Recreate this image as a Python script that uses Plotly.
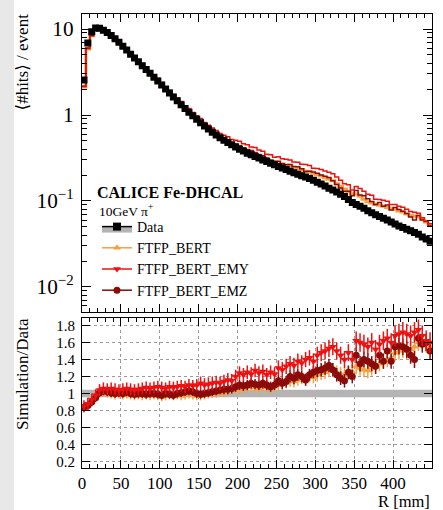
import plotly.graph_objects as go

# ---------------- data ----------------
bin_edges = list(range(0, 455, 5))               # R [mm], 5 mm bins
bin_centers = [e + 2.5 for e in bin_edges[:-1]]

data_hits = [2.55, 6.9, 9.3, 10.3, 10.2, 9.7, 9.1, 8.4, 7.7, 7.0,
             6.3, 5.7, 5.1, 4.6, 4.15, 3.75, 3.38, 3.05, 2.75, 2.48,
             2.23, 2.0, 1.80, 1.62, 1.46, 1.32, 1.19, 1.08, 0.98, 0.89,
             0.815, 0.745, 0.685, 0.63, 0.585, 0.545, 0.51, 0.48, 0.45, 0.425,
             0.40, 0.38, 0.36, 0.345, 0.33, 0.315, 0.30, 0.287, 0.275, 0.263,
             0.252, 0.242, 0.232, 0.222, 0.213, 0.205, 0.197, 0.19, 0.182, 0.174,
             0.165, 0.157, 0.149, 0.141, 0.134, 0.127, 0.120, 0.113, 0.104, 0.096,
             0.091, 0.087, 0.082, 0.077, 0.073, 0.069, 0.066, 0.063, 0.06, 0.057,
             0.054, 0.051, 0.049, 0.047, 0.045, 0.043, 0.041, 0.038, 0.036, 0.034]

data_rel_err = [0.045, 0.045, 0.045, 0.045, 0.045, 0.045, 0.045, 0.045, 0.045, 0.045,
                0.045, 0.045, 0.045, 0.045, 0.045, 0.045, 0.045, 0.045, 0.045, 0.045,
                0.045, 0.045, 0.045, 0.045, 0.045, 0.045, 0.045, 0.045, 0.045, 0.045,
                0.045, 0.045, 0.045, 0.045, 0.045, 0.045, 0.045, 0.045, 0.045, 0.045,
                0.045, 0.045, 0.045, 0.045, 0.045, 0.045, 0.045, 0.045, 0.045, 0.045,
                0.045, 0.045, 0.045, 0.045, 0.045, 0.045, 0.045, 0.045, 0.045, 0.045,
                0.045, 0.045, 0.045, 0.045, 0.045, 0.045, 0.045, 0.045, 0.045, 0.045,
                0.045, 0.045, 0.045, 0.045, 0.045, 0.045, 0.045, 0.045, 0.045, 0.045,
                0.045, 0.045, 0.045, 0.045, 0.045, 0.045, 0.045, 0.045, 0.045, 0.045]

ratio_bert = [0.83, 0.85, 0.90, 0.95, 1.00, 1.02, 1.00, 0.99, 0.98, 0.99,
              0.98, 0.99, 0.98, 0.97, 0.98, 0.97, 0.98, 0.97, 0.98, 0.97,
              0.96, 0.97, 0.98, 0.97, 0.98, 0.97, 0.98, 0.99, 0.98, 0.97,
              0.97, 0.98, 0.99, 1.00, 1.00, 1.01, 1.02, 1.03, 1.04, 1.05,
              1.05, 1.06, 1.07, 1.08, 1.07, 1.06, 1.08, 1.07, 1.06, 1.08,
              1.10, 1.12, 1.13, 1.15, 1.14, 1.16, 1.18, 1.17, 1.20, 1.19,
              1.22, 1.24, 1.25, 1.27, 1.28, 1.25, 1.23, 1.22, 1.24, 1.26,
              1.32, 1.30, 1.28, 1.27, 1.30, 1.32, 1.35, 1.38, 1.40, 1.42,
              1.48, 1.50, 1.52, 1.50, 1.52, 1.55, 1.60, 1.62, 1.58, 1.55]
err_bert = [0.05, 0.05, 0.05, 0.05, 0.05, 0.05, 0.05, 0.05, 0.05, 0.05,
            0.05, 0.05, 0.05, 0.05, 0.05, 0.05, 0.05, 0.05, 0.05, 0.05,
            0.05, 0.05, 0.05, 0.05, 0.05, 0.05, 0.05, 0.05, 0.05, 0.05,
            0.05, 0.05, 0.05, 0.05, 0.05, 0.05, 0.06, 0.06, 0.06, 0.06,
            0.06, 0.06, 0.06, 0.06, 0.06, 0.06, 0.06, 0.06, 0.06, 0.06,
            0.07, 0.07, 0.07, 0.07, 0.07, 0.07, 0.07, 0.07, 0.07, 0.07,
            0.08, 0.08, 0.08, 0.08, 0.08, 0.08, 0.08, 0.08, 0.08, 0.08,
            0.09, 0.09, 0.09, 0.09, 0.09, 0.09, 0.09, 0.09, 0.09, 0.09,
            0.10, 0.10, 0.10, 0.10, 0.10, 0.10, 0.10, 0.10, 0.10, 0.10]

ratio_emy = [0.85, 0.88, 0.93, 0.98, 1.04, 1.06, 1.05, 1.06, 1.05, 1.04,
             1.05, 1.06, 1.05, 1.04, 1.05, 1.06, 1.07, 1.06, 1.07, 1.08,
             1.07, 1.06, 1.08, 1.07, 1.08, 1.09, 1.08, 1.10, 1.09, 1.10,
             1.12, 1.10, 1.11, 1.12, 1.13, 1.12, 1.14, 1.16, 1.15, 1.20,
             1.24, 1.22, 1.25, 1.23, 1.27, 1.24, 1.26, 1.22, 1.25, 1.23,
             1.30, 1.28, 1.32, 1.35, 1.33, 1.38, 1.36, 1.40, 1.42, 1.38,
             1.45, 1.48, 1.50, 1.53, 1.55, 1.50, 1.45, 1.40, 1.48, 1.40,
             1.62, 1.60, 1.58, 1.55, 1.60, 1.52, 1.58, 1.62, 1.65, 1.60,
             1.68, 1.70, 1.72, 1.70, 1.68, 1.72, 1.75, 1.68, 1.62, 1.60]
err_emy = [0.07, 0.07, 0.07, 0.07, 0.07, 0.07, 0.07, 0.07, 0.07, 0.07,
           0.07, 0.07, 0.07, 0.07, 0.07, 0.07, 0.07, 0.07, 0.07, 0.07,
           0.07, 0.07, 0.07, 0.07, 0.07, 0.07, 0.07, 0.07, 0.07, 0.07,
           0.08, 0.08, 0.08, 0.08, 0.08, 0.08, 0.08, 0.08, 0.08, 0.08,
           0.08, 0.08, 0.08, 0.08, 0.08, 0.08, 0.08, 0.08, 0.08, 0.08,
           0.09, 0.09, 0.09, 0.09, 0.09, 0.09, 0.09, 0.09, 0.09, 0.09,
           0.10, 0.10, 0.10, 0.10, 0.10, 0.10, 0.10, 0.10, 0.10, 0.10,
           0.11, 0.11, 0.11, 0.11, 0.11, 0.11, 0.11, 0.11, 0.11, 0.11,
           0.12, 0.12, 0.12, 0.12, 0.12, 0.12, 0.12, 0.12, 0.12, 0.12]

ratio_emz = [0.84, 0.86, 0.90, 0.95, 1.01, 1.03, 1.02, 1.01, 1.00, 1.01,
             1.00, 1.02, 1.00, 0.99, 1.00, 1.00, 0.99, 1.00, 1.00, 0.99,
             0.98, 1.00, 0.99, 0.98, 1.00, 1.01, 1.02, 1.03, 1.02, 1.00,
             0.99, 1.00, 1.01, 1.02, 1.03, 1.04, 1.05, 1.05, 1.06, 1.08,
             1.10, 1.09, 1.10, 1.12, 1.11, 1.10, 1.12, 1.10, 1.08, 1.10,
             1.15, 1.12, 1.14, 1.20, 1.18, 1.22, 1.20, 1.16, 1.22, 1.25,
             1.27, 1.28, 1.30, 1.33, 1.28, 1.22, 1.18, 1.15, 1.25, 1.20,
             1.45, 1.35, 1.40, 1.38, 1.35, 1.32, 1.45, 1.38, 1.50, 1.38,
             1.55, 1.56, 1.55, 1.52, 1.45, 1.40, 1.65, 1.58, 1.60, 1.50]
err_emz = [0.05, 0.05, 0.05, 0.05, 0.05, 0.05, 0.05, 0.05, 0.05, 0.05,
           0.05, 0.05, 0.05, 0.05, 0.05, 0.05, 0.05, 0.05, 0.05, 0.05,
           0.05, 0.05, 0.05, 0.05, 0.05, 0.05, 0.05, 0.05, 0.05, 0.05,
           0.05, 0.05, 0.05, 0.05, 0.05, 0.05, 0.06, 0.06, 0.06, 0.06,
           0.06, 0.06, 0.06, 0.06, 0.06, 0.06, 0.06, 0.06, 0.06, 0.06,
           0.07, 0.07, 0.07, 0.07, 0.07, 0.07, 0.07, 0.07, 0.07, 0.07,
           0.08, 0.08, 0.08, 0.08, 0.08, 0.08, 0.08, 0.08, 0.08, 0.08,
           0.09, 0.09, 0.09, 0.09, 0.09, 0.09, 0.09, 0.09, 0.09, 0.09,
           0.10, 0.10, 0.10, 0.10, 0.10, 0.10, 0.10, 0.10, 0.10, 0.10]

y_ticks_ratio = [0.2, 0.4, 0.6, 0.8, 1.0, 1.2, 1.4, 1.6, 1.8]
y_ticktext_ratio = ["0.2", "0.4", "0.6", "0.8", "1", "1.2", "1.4", "1.6", "1.8"]
x_ticks = [0, 50, 100, 150, 200, 250, 300, 350, 400, 450]

# ---------------- styles ----------------
FONT = "Liberation Serif, Tinos, 'Times New Roman', 'DejaVu Serif', serif"
TICK_SIZE = 17
C_BERT = "#f5a040"
C_EMY = "#ee1111"
C_EMZ = "#8b0a0a"
C_BAND = "#b4b4b4"

W, H = 443, 510
ML, MR, MT, MB = 82, 11, 14, 42
PW, PH = W - ML - MR, H - MT - MB
top_dom = [(468 - 311.5) / PH, 1.0]
bot_dom = [0.0, (468 - 318) / PH]

def step(vals):
    return vals + [vals[-1]]

fig = go.Figure()

# ---- top panel: data band ----
up = [d * (1 + e) for d, e in zip(data_hits, data_rel_err)]
lo = [d * (1 - e) for d, e in zip(data_hits, data_rel_err)]
fig.add_trace(go.Scatter(x=bin_edges, y=step(lo), mode="lines", line=dict(width=0, shape="hv"),
                         showlegend=False, hoverinfo="skip", xaxis="x", yaxis="y"))
fig.add_trace(go.Scatter(x=bin_edges, y=step(up), mode="lines", line=dict(width=0, shape="hv"),
                         fill="tonexty", fillcolor=C_BAND, showlegend=False, hoverinfo="skip",
                         xaxis="x", yaxis="y"))

sims = [("FTFP_BERT", ratio_bert, err_bert, C_BERT, "triangle-up", 3.0),
        ("FTFP_BERT_EMZ", ratio_emz, err_emz, C_EMZ, "circle", 1.5),
        ("FTFP_BERT_EMY", ratio_emy, err_emy, C_EMY, "triangle-down", 1.5)]

for name, r, e, c, sym, lw in sims:
    vals = [d * x for d, x in zip(data_hits, r)]
    fig.add_trace(go.Scatter(x=bin_edges, y=step(vals), mode="lines",
                             line=dict(color=c, width=lw, shape="hv"),
                             showlegend=False, xaxis="x", yaxis="y"))

fig.add_trace(go.Scatter(x=bin_centers, y=data_hits, mode="markers",
                         marker=dict(symbol="square", size=7, color="black"),
                         showlegend=False, xaxis="x", yaxis="y"))

# ---- ratio panel ----
band_lo = [1 - e for e in data_rel_err]
band_hi = [1 + e for e in data_rel_err]
fig.add_trace(go.Scatter(x=bin_edges, y=step(band_lo), mode="lines", line=dict(width=0, shape="hv"),
                         showlegend=False, hoverinfo="skip", xaxis="x2", yaxis="y2"))
fig.add_trace(go.Scatter(x=bin_edges, y=step(band_hi), mode="lines", line=dict(width=0, shape="hv"),
                         fill="tonexty", fillcolor=C_BAND, showlegend=False, hoverinfo="skip",
                         xaxis="x2", yaxis="y2"))

for name, r, e, c, sym, lw in sims:
    fig.add_trace(go.Scatter(x=bin_centers, y=r, mode="markers",
                             marker=dict(symbol=sym, size=7, color=c),
                             error_y=dict(type="data", array=e, color=c, thickness=1.5, width=0),
                             showlegend=False, xaxis="x2", yaxis="y2"))

# ---- legend-only entries ----
fig.add_trace(go.Scatter(x=[None], y=[None], name="Data", mode="lines+markers", fill="toself",
                         fillcolor=C_BAND, line=dict(color="black", width=1.5),
                         marker=dict(symbol="square", size=8, color="black"),
                         xaxis="x", yaxis="y"))
for name, c, sym in [("FTFP_BERT", C_BERT, "triangle-up"),
                     ("FTFP_BERT_EMY", C_EMY, "triangle-down"),
                     ("FTFP_BERT_EMZ", C_EMZ, "circle")]:
    fig.add_trace(go.Scatter(x=[None], y=[None], name=name, mode="lines+markers",
                             line=dict(color=c, width=1.5), marker=dict(symbol=sym, size=7, color=c),
                             xaxis="x", yaxis="y"))

axis_common = dict(showline=True, linecolor="black", linewidth=1, mirror="allticks",
                   ticks="inside", tickcolor="black", zeroline=False)

fig.update_layout(
    width=W, height=H,
    margin=dict(l=ML, r=MR, t=MT, b=MB),
    paper_bgcolor="white", plot_bgcolor="white",
    font=dict(family=FONT, size=15, color="black"),
    xaxis=dict(domain=[0, 1], range=[0, 450], anchor="y", showticklabels=False,
               tickvals=x_ticks, ticklen=8, showgrid=False,
               minor=dict(dtick=10, tick0=0, ticklen=4, ticks="inside", tickcolor="black", showgrid=False),
               tickfont=dict(family=FONT, size=TICK_SIZE, color="black"),
               **axis_common),
    yaxis=dict(domain=top_dom, type="log", range=[-2.286, 1.175], anchor="x",
               tickmode="linear", tick0=0, dtick=1, exponentformat="power",
               ticklen=9, showgrid=False, ticklabelstandoff=4,
               minor=dict(dtick="D1", ticks="inside", ticklen=5, tickcolor="black", showgrid=False),
               tickfont=dict(family=FONT, size=TICK_SIZE, color="black"),
               **axis_common),
    xaxis2=dict(domain=[0, 1], range=[0, 450], anchor="y2", matches="x",
                tickvals=x_ticks, ticktext=[str(v) for v in x_ticks], ticklen=8,
                showgrid=True, gridcolor="#9a9a9a", griddash="dot", gridwidth=1,
                minor=dict(dtick=10, tick0=0, ticklen=4, ticks="inside", tickcolor="black", showgrid=False),
                tickfont=dict(family=FONT, size=TICK_SIZE, color="black"),
                **axis_common),
    yaxis2=dict(domain=bot_dom, range=[0.124, 1.888], anchor="x2",
                tickvals=y_ticks_ratio, ticktext=y_ticktext_ratio, ticklen=8,
                showgrid=True, gridcolor="#9a9a9a", griddash="dot", gridwidth=1,
                ticklabelstandoff=3,
                tickfont=dict(family=FONT, size=15, color="black"),
                **axis_common),
    legend=dict(x=(97 - ML) / PW, y=(468 - 211) / PH, xanchor="left", yanchor="top",
                bgcolor="rgba(0,0,0,0)", font=dict(family=FONT, size=14, color="black"),
                tracegroupgap=0, itemwidth=30, traceorder="normal"),
    showlegend=True,
)

fig.add_annotation(text="<b>CALICE Fe-DHCAL</b>", xref="paper", yref="paper",
                   x=(95 - ML) / PW, y=(468 - 193) / PH, xanchor="left", yanchor="middle",
                   showarrow=False, font=dict(family=FONT, size=16, color="black"))
fig.add_annotation(text="10GeV \u03c0<sup>+</sup>", xref="paper", yref="paper",
                   x=(97 - ML) / PW, y=(468 - 210.5) / PH, xanchor="left", yanchor="middle",
                   showarrow=False, font=dict(family=FONT, size=13.5, color="black"))
fig.add_annotation(text="\u27e8#hits\u27e9 / event", xref="paper", yref="paper",
                   x=(22 - ML) / PW, y=(468 - 12) / PH, xanchor="center", yanchor="top",
                   textangle=-90, showarrow=False, font=dict(family=FONT, size=17, color="black"))
fig.add_annotation(text="Simulation/Data", xref="paper", yref="paper",
                   x=(22 - ML) / PW, y=(468 - 316) / PH, xanchor="center", yanchor="top",
                   textangle=-90, showarrow=False, font=dict(family=FONT, size=17, color="black"))
fig.add_annotation(text="R [mm]", xref="paper", yref="paper",
                   x=1.0, y=(468 - 502) / PH, xanchor="right", yanchor="middle",
                   showarrow=False, font=dict(family=FONT, size=16.5, color="black"))

fig.add_shape(type="rect", xref="paper", yref="paper", layer="below",
              x0=-ML / PW, x1=(14 - ML) / PW, y0=-MB / PH, y1=1 + MT / PH,
              fillcolor="#e8e8e8", line=dict(width=0))

fig.write_html("out.html")
